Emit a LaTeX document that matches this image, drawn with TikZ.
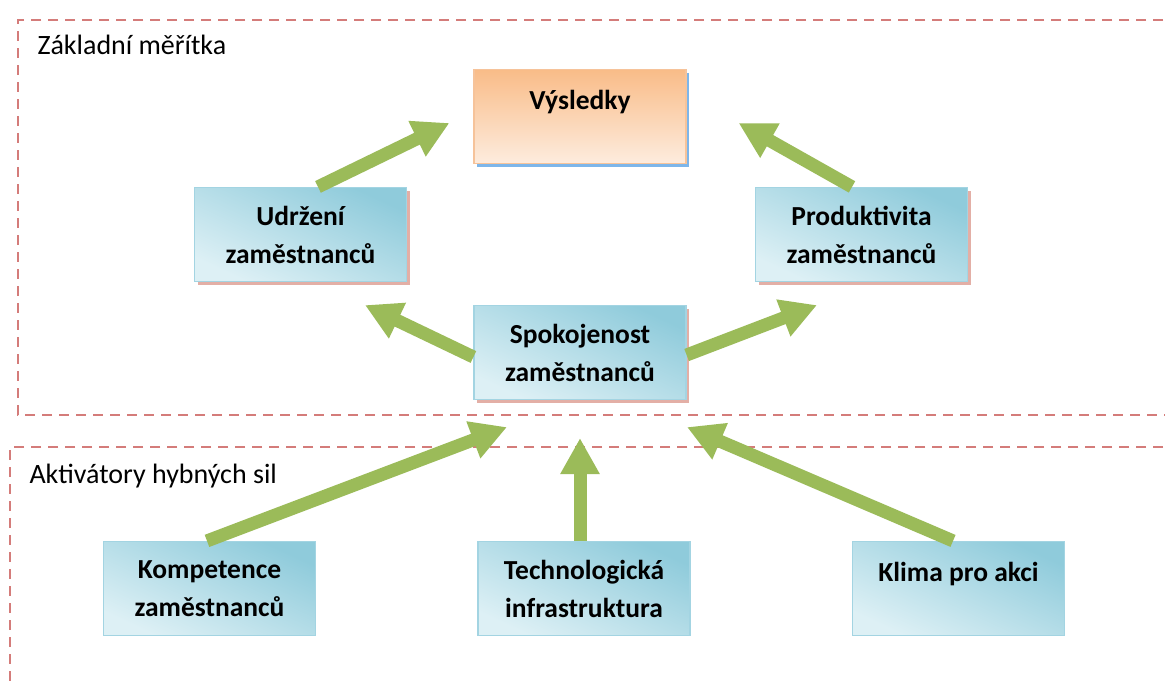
\documentclass[tikz,border=0pt]{standalone}
\usepackage{fontspec}
\setmainfont{Carlito}
\usetikzlibrary{shapes, arrows.meta, shadows}
\definecolor{boxdark}{HTML}{8FCBDB}
\definecolor{boxlight}{HTML}{DDF0F5}
\definecolor{boxline}{HTML}{A3D4E2}
\definecolor{resdark}{HTML}{F9BC88}
\definecolor{reslight}{HTML}{FDECDE}
\definecolor{resline}{HTML}{F6C39A}
\definecolor{arrowgreen}{HTML}{9BBB59}
\definecolor{dashred}{HTML}{D47C7A}
\definecolor{pinkshade}{HTML}{E3AFA6}
\definecolor{blueshade}{HTML}{7DB6EA}
\tikzstyle{bluebox} = [rectangle, minimum width=212pt, minimum height=94pt, text centered,
align=center, draw=boxline, line width=1.2pt, shading=axis, top color=boxdark,
bottom color=boxlight, shading angle=-25, font=\fontsize{27.5}{38}\selectfont\bfseries]
\tikzstyle{resultbox} = [bluebox, draw=resline, top color=resdark, bottom color=reslight,
drop shadow={shadow xshift=3pt, shadow yshift=-3pt, fill=blueshade, opacity=1}]
\tikzstyle{pinkshadow} = [drop shadow={shadow xshift=3pt, shadow yshift=-3pt, fill=pinkshade, opacity=1}]
\tikzstyle{oneline} = [text depth=34pt]
\tikzstyle{area} = [dashred, line width=1.8pt, dash pattern=on 10pt off 7pt]
\tikzstyle{arealabel} = [anchor=west, font=\fontsize{28}{34}\selectfont]
\tikzstyle{arrow} = [arrowgreen, line width=13pt, -{Triangle[width=37pt, length=36pt]}]

\begin{document}
\begin{tikzpicture}[x=1pt, y=-1pt]

    \useasboundingbox[fill=white] (0,0) rectangle (1165,686);
    \clip (0,0) rectangle (1165,686);

    % dashed areas
    \draw[area] (1180,20) -- (18,20) -- (18,415) -- (1180,415);
    \draw[area] (1180,447) -- (10,447) -- (10,700);
    \node (top) [arealabel] at (34,45) {Základní měřítka};
    \node (bottom) [arealabel] at (26,476) {Aktivátory hybných sil};

    \node (vys) [resultbox, oneline] at (580,116.5) {Výsledky};
    \node (udr) [bluebox, pinkshadow] at (300.5,234.5) {Udržení\\zaměstnanců};
    \node (pro) [bluebox, pinkshadow] at (861.5,234.5) {Produktivita\\zaměstnanců};
    \node (spok) [bluebox, pinkshadow] at (580,352.5) {Spokojenost\\zaměstnanců};
    \node (kom) [bluebox] at (209.5,588.5) {Kompetence\\zaměstnanců};
    \node (tech) [bluebox] at (584,588.5) {Technologická\\infrastruktura};
    \node (klima) [bluebox, oneline] at (958.5,588.5) {Klima pro akci};

    \draw[arrow] ([xshift=17.5pt]udr.north) -- ([xshift=-24pt, yshift=-6.5pt]vys.west);
    \draw[arrow] ([xshift=-9.5pt]pro.north) -- ([xshift=52pt, yshift=-6.5pt]vys.east);
    \draw[arrow] ([yshift=-4.5pt]spok.west) -- ([xshift=64.5pt, yshift=-23pt]udr.south);
    \draw[arrow] ([yshift=-2.5pt]spok.east) -- ([xshift=-44.5pt, yshift=-23pt]pro.south);
    \draw[arrow] ([xshift=-2.5pt]kom.north) -- ([xshift=-73pt, yshift=-27pt]spok.south);
    \draw[arrow] ([xshift=-4pt]tech.north) -- ([yshift=-38pt]spok.south);
    \draw[arrow] ([xshift=-5.5pt]klima.north) -- ([xshift=107pt, yshift=-27pt]spok.south);

\end{tikzpicture}
\end{document}
